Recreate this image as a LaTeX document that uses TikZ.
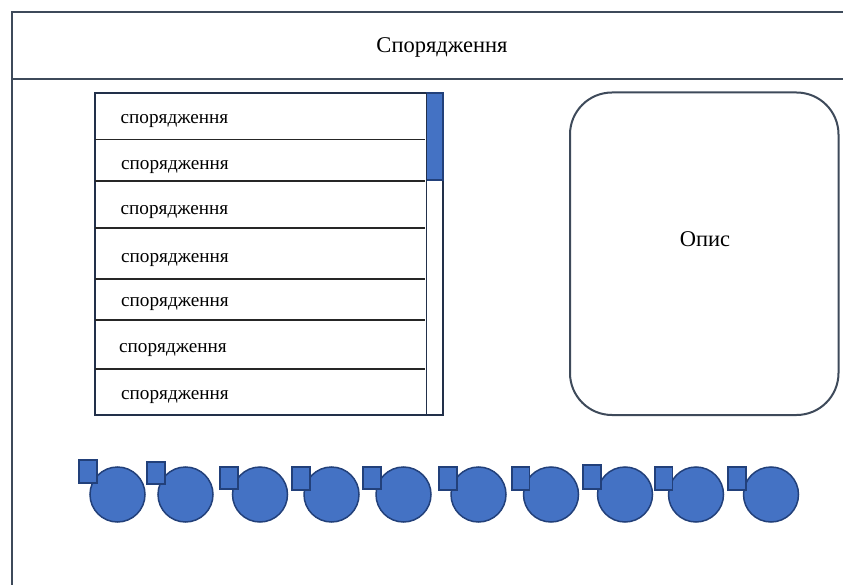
\documentclass[tikz,border=0pt]{standalone}
\usepackage{fontspec}
\setmainfont{Liberation Serif}
\definecolor{framec}{HTML}{3E4A5A}
\definecolor{listc}{HTML}{22304A}
\definecolor{bluef}{HTML}{4472C4}
\definecolor{bluel}{HTML}{22407A}
\tikzset{
  framel/.style={draw=framec, line width=2pt},
  rowline/.style={draw=black!85, line width=1.1pt},
  rowtext/.style={anchor=base west, inner sep=0pt, font=\fontsize{19.2}{23}\selectfont},
  bigtext/.style={anchor=base, inner sep=0pt, font=\fontsize{22.5}{27}\selectfont},
  blob/.style={fill=bluef, draw=bluel, line width=1.5pt},
}
\begin{document}
\begin{tikzpicture}[x=1pt,y=-1pt]
\useasboundingbox (0,0) rectangle (843,585);
% outer frame
\draw[framel] (843,12.5) -- (12,12.5) -- (12,586);
\draw[framel] (12,79) -- (843,79);
\node[bigtext] (title) at (442,53) {Спорядження};
% list box
\draw[draw=listc, line width=2pt] (95,93) rectangle (443,415);
\draw[blob, line width=1.2pt] (426.5,93) rectangle (443,180);
\draw[draw=listc, line width=1.5pt] (426.5,93) -- (426.5,415);
\foreach \y in {139.5,181,228,279,320,369}{
  \draw[rowline] (95,\y) -- (425,\y);
}
\node[rowtext] (r1) at (120.5,123.3) {спорядження};
\node[rowtext] (r2) at (121,169.6) {спорядження};
\node[rowtext] (r3) at (120.5,214.3) {спорядження};
\node[rowtext] (r4) at (121,262.3) {спорядження};
\node[rowtext] (r5) at (121,306.6) {спорядження};
\node[rowtext] (r6) at (119,352.3) {спорядження};
\node[rowtext] (r7) at (121,399.9) {спорядження};
% description box
\draw[draw=framec, line width=2pt, rounded corners=42pt] (570,92.5) rectangle (838.5,415);
\node[bigtext] (desc) at (705,246.5) {Опис};
% circles with squares
\foreach \cx/\sa/\sb/\sy/\sz in {117.5/79/97/460/483, 185.5/147/165/462/484, 260/220/238/467/489, 331.5/292/310/467/490, 403.5/363/381/467/489, 478.5/439/457/467/490, 551/512/529.5/467/490, 625/583/601/465/489, 696/655/672.5/467/490, 771/728/746/467/490}{
  \draw[blob] (\cx,494.5) circle (27.5);
  \draw[blob] (\sa,\sy) rectangle (\sb,\sz);
}
\end{tikzpicture}
\end{document}
